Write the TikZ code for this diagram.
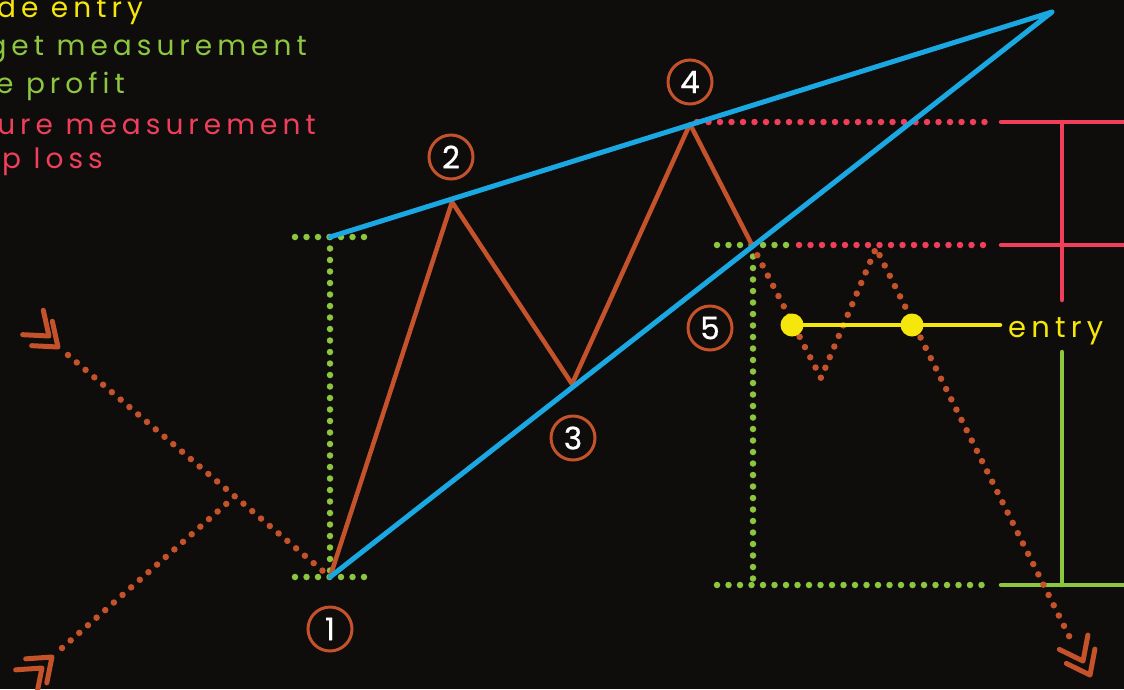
\documentclass[tikz,border=0pt]{standalone}
\usepackage{fontspec}
\setmainfont{Poppins}
\newfontfamily\spacedfont[LetterSpace=18]{Poppins}
\newfontfamily\numfont[FakeBold=0.8]{Poppins}

\definecolor{bgdark}{HTML}{0F0C0C}
\definecolor{trendblue}{HTML}{1AA8E3}
\definecolor{pricebrown}{HTML}{C4522A}
\definecolor{targetgreen}{HTML}{8DC63F}
\definecolor{stopred}{HTML}{EF3F5B}
\definecolor{entryyellow}{HTML}{F5E70B}

\tikzset{
  dotline/.style={line width=6.5pt, line cap=round, dash pattern=on 0pt off 11.5pt},
  trend/.style={trendblue, line width=5pt, line cap=round, line join=round},
  price/.style={pricebrown, line width=4.5pt, line cap=round, line join=round},
  level/.style={line width=4.5pt, line cap=round},
  numcircle/.style={circle, draw=pricebrown, line width=3pt, minimum size=44pt,
    inner sep=0pt, text=white, font=\numfont\fontsize{31}{31}\selectfont},
  legend/.style={anchor=base east, inner sep=0pt, font=\spacedfont\fontsize{28}{28}\selectfont},
  chevron/.pic={
    \draw[pricebrown, line width=5pt, line cap=round, line join=round]
      (-21,16) -- (0,0) -- (-21,-16);
  }
}

\begin{document}
\begin{tikzpicture}[x=1pt, y=-1pt]
  \useasboundingbox (0,0) rectangle (1124,689);
  \fill[bgdark] (0,0) rectangle (1124,689);

  % Legend
  \node[legend, text=entryyellow] (leg-entry) at (143,17) {de entry};
  \node[legend, text=targetgreen] (leg-target) at (307,55) {get measurement};
  \node[legend, text=targetgreen] (leg-profit) at (125,93) {e profit};
  \node[legend, text=stopred] (leg-failure) at (316,134) {ure measurement};
  \node[legend, text=stopred] (leg-stop) at (103,168) {p loss};

  % Swing points
  \coordinate (P1) at (330,577);
  \coordinate (P2) at (452,202);
  \coordinate (P3) at (572,384);
  \coordinate (P4) at (690,124);
  \coordinate (B) at (752,245);
  \coordinate (T) at (821,378);
  \coordinate (K) at (876,248);
  \coordinate (E) at (1072,642);
  \coordinate (U) at (330,237);
  \coordinate (A) at (1052,12);
  \coordinate (L1) at (68,355);
  \coordinate (X) at (233,498);
  \coordinate (L2) at (62,648);

  % Incoming trend
  \draw[dotline, pricebrown] (L1) -- (P1);
  \draw[dotline, pricebrown] (L2) -- (X);
  \pic[rotate=-40.2] at (49,336) {chevron};
  \pic[rotate=-40.2] at (58,347) {chevron};
  \pic[rotate=41.3] at (42,668) {chevron};
  \pic[rotate=41.3] at (52,657) {chevron};

  % Target measurement
  \draw[dotline, targetgreen] (295,237) -- (368,237);
  \draw[dotline, targetgreen] (295,577) -- (368,577);
  \draw[dotline, targetgreen] (330,237) -- (330,577);
  \draw[dotline, targetgreen] (717,245) -- (790,245);
  \draw[dotline, targetgreen] (753,245) -- (753,585);
  \draw[dotline, targetgreen] (717,585) -- (987,585);

  % Failure measurement
  \draw[dotline, stopred] (697,122) -- (990,122);
  \draw[dotline, stopred] (799,245) -- (990,245);

  % Levels on the right
  \draw[level, stopred] (1001,122) -- (1130,122);
  \draw[level, stopred] (1001,245) -- (1130,245);
  \draw[level, stopred] (1062,122) -- (1062,300);
  \draw[level, targetgreen] (1001,585) -- (1130,585);
  \draw[level, targetgreen] (1062,352) -- (1062,585);

  % Price path
  \draw[price] (P1) -- (P2) -- (P3) -- (P4) -- (B);
  \draw[dotline, pricebrown] (B) -- (T) -- (K) -- (E);
  \pic[rotate=-63.4] at (1083,661) {chevron};
  \pic[rotate=-63.4] at (1090,675) {chevron};

  % Wedge
  \draw[trend] (U) -- (A) -- (P1);

  % Entry
  \node[inner sep=0pt] (entry-a) at (792,325) {};
  \node[inner sep=0pt] (entry-b) at (912,325) {};
  \coordinate (entry-end) at (1000,325);
  \draw[level, entryyellow] (entry-a) -- (entry-end);
  \fill[entryyellow] (entry-a) circle (11.5pt) (entry-b) circle (11.5pt);
  \node[anchor=base west, inner sep=0pt, text=entryyellow,
    font=\spacedfont\fontsize{29}{29}\selectfont] (entry-label) at (1008,337) {entry};

  % Numbers
  \node[numcircle] (n1) at (330,629) {1};
  \node[numcircle] (n2) at (451,157) {2};
  \node[numcircle] (n3) at (573,438) {3};
  \node[numcircle] (n4) at (690,82) {4};
  \node[numcircle] (n5) at (710,328) {5};
\end{tikzpicture}
\end{document}
